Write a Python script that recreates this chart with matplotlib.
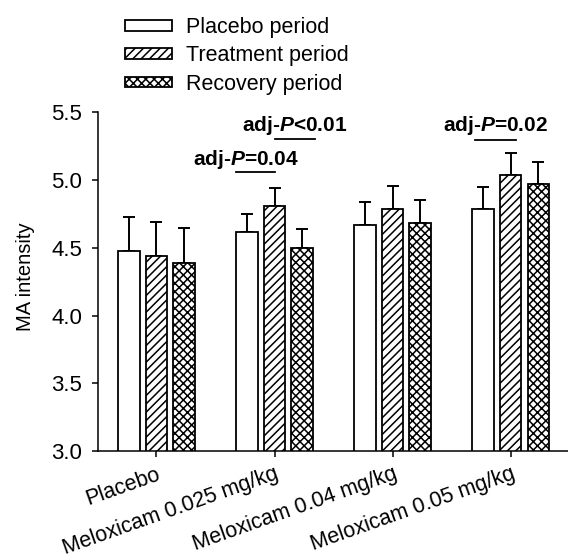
import numpy as np
import matplotlib.pyplot as plt
from matplotlib.patches import Patch

groups = ['Placebo', 'Meloxicam 0.025 mg/kg', 'Meloxicam 0.04 mg/kg', 'Meloxicam 0.05 mg/kg']
periods = ['Placebo period', 'Treatment period', 'Recovery period']
placebo_period = [4.48, 4.62, 4.67, 4.79]
treatment_period = [4.44, 4.81, 4.79, 5.04]
recovery_period = [4.39, 4.50, 4.68, 4.97]
placebo_err = [0.25, 0.13, 0.17, 0.16]
treatment_err = [0.25, 0.135, 0.17, 0.16]
recovery_err = [0.26, 0.14, 0.175, 0.16]

# significance labels: group, line start/end (offset from group centre), line height, text x, text y
sig_labels = ['adj-$\\mathit{P}$=0.04', 'adj-$\\mathit{P}$<0.01', 'adj-$\\mathit{P}$=0.02']
sig_group = [1, 1, 3]
sig_line_x = [(-0.328, 0.004), (0.004, 0.34), (-0.30, 0.047)]
sig_line_y = [5.06, 5.30, 5.295]
sig_text_x = [-0.244, 0.173, -0.133]
sig_text_y = [5.15, 5.405, 5.405]

plt.rcParams['font.family'] = ['Liberation Sans', 'DejaVu Sans']
plt.rcParams['mathtext.fontset'] = 'custom'
plt.rcParams['mathtext.it'] = 'Liberation Sans:italic:bold'
plt.rcParams['mathtext.rm'] = 'Liberation Sans:bold'
plt.rcParams['hatch.linewidth'] = 1.1

fig = plt.figure(figsize=(5.68, 5.59), dpi=100)
ax = fig.add_axes([0.172, 0.193, 0.828, 0.606])

x = np.arange(len(groups))
width = 0.182
step = 0.2335
values = [placebo_period, treatment_period, recovery_period]
errs = [placebo_err, treatment_err, recovery_err]
hatches = [None, '////', 'xxxx']

for i in range(3):
    ax.bar(x + (i - 1) * step, values[i], width, bottom=0,
           color='white', edgecolor='black', linewidth=1.3, hatch=hatches[i],
           zorder=2)
    ax.errorbar(x + (i - 1) * step, values[i],
                yerr=[np.zeros(len(groups)), errs[i]],
                fmt='none', ecolor='black', elinewidth=1.4, capsize=4,
                capthick=1.4, zorder=1)

for k, label in enumerate(sig_labels):
    g = sig_group[k]
    x0, x1 = sig_line_x[k]
    ax.plot([g + x0, g + x1], [sig_line_y[k]] * 2, color='black', lw=1.3,
            clip_on=False)
    ax.text(g + sig_text_x[k], sig_text_y[k], label, ha='center', va='center',
            fontsize=15, fontweight='bold', clip_on=False)

ax.set_ylim(3.0, 5.5)
ax.set_xlim(-0.497, 3.485)
yticks = np.arange(3.0, 5.51, 0.5)
ax.set_yticks(yticks)
ax.set_yticklabels([f'{v:.1f}' for v in yticks])
ax.set_xticks(x)
ax.set_xticklabels(groups, rotation=19.5, ha='right', rotation_mode='anchor')
ax.set_ylabel('MA intensity', fontsize=14.5)
ax.yaxis.set_label_coords(-0.134, 0.514)

ax.spines['top'].set_visible(False)
ax.spines['right'].set_visible(False)
for s in ['left', 'bottom']:
    ax.spines[s].set_linewidth(1.1)
ax.tick_params(axis='both', labelsize=15.5, width=1.1, length=4.5, direction='out')
ax.tick_params(axis='y', pad=6.5, labelsize=16)
ax.tick_params(axis='x', pad=4.5)

handles = [Patch(facecolor='white', edgecolor='black', linewidth=1.3, hatch=h)
           for h in hatches]
fig.legend(handles, periods, loc='upper left', bbox_to_anchor=(0.205, 0.985),
           frameon=False, fontsize=15.5, handlelength=2.2, handleheight=0.4,
           handletextpad=0.65, labelspacing=0.34, borderaxespad=0)

fig.savefig('out.png', dpi=100)
